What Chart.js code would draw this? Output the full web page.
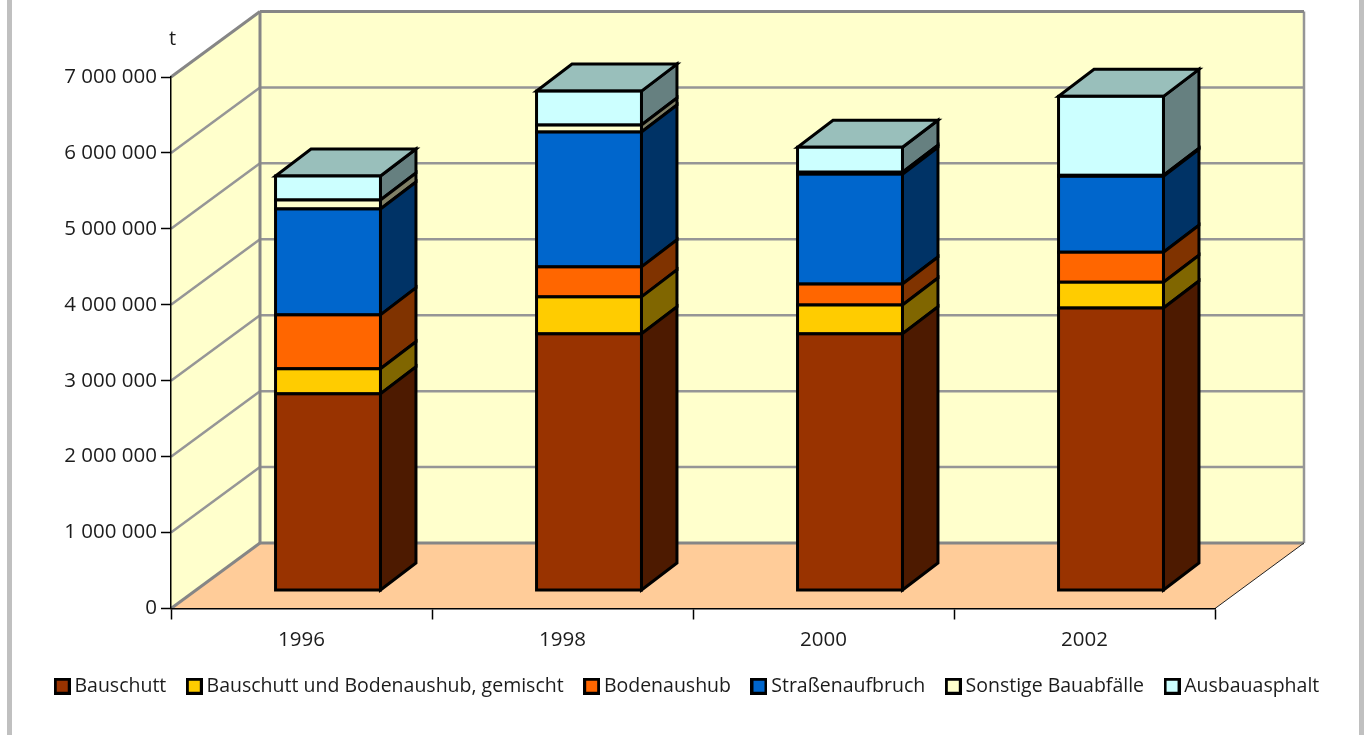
<!DOCTYPE html>
<html lang="de">
<head>
<meta charset="utf-8">
<title>Bauabfälle</title>
<style>
html,body{margin:0;padding:0;background:#fff;overflow:hidden}
#wrap{position:relative;width:1364px;height:735px}
canvas{position:absolute;left:0;top:0}
.rail{position:absolute;top:0;height:735px;background:#c0c0c0}
</style>
<script src="https://cdn.jsdelivr.net/npm/chart.js@4"></script>
</head>
<body>
<div id="wrap">
<div class="rail" style="left:7px;width:5px"></div>
<div class="rail" style="left:1359px;width:5px"></div>
<canvas id="c" width="1364" height="735"></canvas>
</div>
<script>
const years = ['1996','1998','2000','2002'];
const bauschutt = [2590000,3380000,3380000,3720000];
const gemischt  = [330000,487000,380000,340000];
const bodenaushub = [710000,395000,276000,395000];
const strassenaufbruch = [1395000,1776000,1447000,1000000];
const sonstige = [118000,92000,26000,13000];
const ausbauasphalt = [316000,447000,329000,1040000];
const seriesNames = ['Bauschutt','Bauschutt und Bodenaushub, gemischt','Bodenaushub','Straßenaufbruch','Sonstige Bauabfälle','Ausbauasphalt'];
const seriesValues = [bauschutt,gemischt,bodenaushub,strassenaufbruch,sonstige,ausbauasphalt];
const frontColors = ['#993300','#FFCC00','#FF6600','#0066CC','#FFFFCC','#CCFFFF'];
const sideColors  = ['#4D1A00','#806600','#803300','#003366','#808066','#668080'];
const topColor = '#99BFBB';
const FONT = '"Open Sans"';
const TEXT = '#1c1c1c';
const WALL_DX = 89, WALL_DY = -65.5;
const BAR_TX = 26.5, BAR_TY = -18;
const BAR_DX = 35.5, BAR_DY = -27;

function swatch(color){
  const c = document.createElement('canvas'); c.width = 17; c.height = 17;
  const g = c.getContext('2d');
  g.fillStyle = '#000'; g.fillRect(0,0,17,17);
  g.fillStyle = color; g.fillRect(3,3,11,11);
  return c;
}
const swatches = frontColors.map(swatch);

function poly(ctx, pts){
  ctx.beginPath();
  pts.forEach((p,i)=> i ? ctx.lineTo(p[0],p[1]) : ctx.moveTo(p[0],p[1]));
  ctx.closePath();
}
function seg(ctx,x1,y1,x2,y2,color,w){
  ctx.strokeStyle = color; ctx.lineWidth = w;
  ctx.beginPath(); ctx.moveTo(x1,y1); ctx.lineTo(x2,y2); ctx.stroke();
}

const box3d = {
  id:'box3d',
  beforeDraw(chart){
    const {ctx, chartArea:a, scales:{y}} = chart;
    const dx = WALL_DX, dy = WALL_DY;
    ctx.save();
    ctx.fillStyle = '#FFFFCC';
    poly(ctx,[[a.left,a.top],[a.left+dx,a.top+dy],[a.left+dx,a.bottom+dy],[a.left,a.bottom]]); ctx.fill();
    ctx.fillRect(a.left+dx,a.top+dy,a.right-a.left,a.bottom-a.top);
    ctx.fillStyle = '#FFCC99';
    poly(ctx,[[a.left,a.bottom],[a.left+dx,a.bottom+dy],[a.right+dx,a.bottom+dy],[a.right,a.bottom]]); ctx.fill();
    y.ticks.forEach(t=>{
      const py = y.getPixelForValue(t.value);
      if (t.value===0 || t.value===y.max) return;
      seg(ctx,a.left,py,a.left+dx,py+dy,'#969696',2.5);
      seg(ctx,a.left+dx,py+dy,a.right+dx,py+dy,'#969696',2.5);
    });
    seg(ctx,a.right+dx,a.top+dy,a.right+dx,a.bottom+dy,'#969696',2.5);
    seg(ctx,a.left,a.top,a.left+dx,a.top+dy,'#868686',3);
    seg(ctx,a.left+dx,a.top+dy,a.right+dx,a.top+dy,'#868686',3);
    seg(ctx,a.left,a.bottom,a.left+dx,a.bottom+dy,'#868686',3);
    seg(ctx,a.left+dx,a.bottom+dy,a.right+dx,a.bottom+dy,'#868686',3);
    seg(ctx,a.left+dx,a.top+dy,a.left+dx,a.bottom+dy,'#868686',3);
    seg(ctx,a.right,a.bottom,a.right+dx,a.bottom+dy,'#222',1);
    ctx.restore();
  },
  beforeDatasetDraw(chart,args){
    const {ctx} = chart;
    const i = args.index, meta = args.meta;
    ctx.save();
    ctx.translate(BAR_TX,BAR_TY);
    ctx.lineJoin = 'miter'; ctx.lineWidth = 3; ctx.strokeStyle = '#000';
    meta.data.forEach(el=>{
      const p = el.getProps(['x','y','base','width'],true);
      const R = p.x+p.width/2, L = p.x-p.width/2;
      ctx.fillStyle = sideColors[i];
      poly(ctx,[[R,p.base],[R+BAR_DX,p.base+BAR_DY],[R+BAR_DX,p.y+BAR_DY],[R,p.y]]);
      ctx.fill(); ctx.stroke();
      if (i===seriesValues.length-1){
        ctx.fillStyle = topColor;
        poly(ctx,[[L,p.y],[R,p.y],[R+BAR_DX,p.y+BAR_DY],[L+BAR_DX,p.y+BAR_DY]]);
        ctx.fill(); ctx.stroke();
      }
    });
  },
  afterDatasetDraw(chart,args){
    const {ctx} = chart;
    ctx.lineWidth = 3; ctx.strokeStyle = '#000';
    args.meta.data.forEach(el=>{
      const p = el.getProps(['x','y','base','width'],true);
      ctx.strokeRect(p.x-p.width/2,p.y,p.width,p.base-p.y);
    });
    ctx.restore();
  },
  afterDraw(chart){
    const {ctx} = chart;
    ctx.save();
    ctx.fillStyle = TEXT; ctx.font = '20px '+FONT;
    ctx.textAlign = 'left'; ctx.textBaseline = 'alphabetic';
    ctx.fillText('t',169,45);
    ctx.restore();
  }
};

new Chart(document.getElementById('c'),{
  type:'bar',
  data:{
    labels:years,
    datasets:seriesNames.map((n,i)=>({
      label:n,
      data:seriesValues[i],
      backgroundColor:frontColors[i],
      borderWidth:0,
      inflateAmount:0,
      clip:false,
      barPercentage:0.402,
      categoryPercentage:1
    }))
  },
  plugins:[box3d],
  options:{
    responsive:false,
    animation:false,
    events:[],
    layout:{padding:{left:15,right:0,top:77,bottom:29}},
    plugins:{
      tooltip:{enabled:false},
      title:{display:false},
      legend:{
        position:'bottom',
        labels:{
          usePointStyle:true,
          boxWidth:5,
          boxHeight:14,
          padding:25.5,
          color:TEXT,
          font:{family:FONT,size:19.5},
          generateLabels(chart){
            const base = Chart.defaults.plugins.legend.labels.generateLabels(chart);
            base.forEach((l,i)=>{ l.pointStyle = swatches[i]; });
            return base;
          }
        }
      }
    },
    scales:{
      x:{
        stacked:true,
        afterFit(s){ s.height = 42.5; },
        grid:{drawOnChartArea:false,tickLength:11,tickColor:c=>c.index===years.length?'#868686':'#000',tickWidth:1.5},
        border:{color:'#000',width:1.5},
        ticks:{color:TEXT,font:{family:FONT,size:20.5},padding:8,maxRotation:0}
      },
      y:{
        stacked:true,
        min:0,max:7000000,
        afterFit(s){ s.width = 156; },
        grid:{drawOnChartArea:false,tickLength:10,tickColor:'#000',tickWidth:1.5},
        border:{color:'#000',width:1.5},
        ticks:{
          stepSize:1000000,
          color:TEXT,
          font:{family:FONT,size:20.5},
          padding:4,
          callback:v=>String(v).replace(/\B(?=(\d{3})+$)/g,' ')
        }
      },
      spacer:{
        position:'right',
        display:true,
        afterFit(s){ s.width = 149; },
        grid:{display:false},
        border:{display:false},
        ticks:{display:false}
      }
    }
  }
});
</script>
</body>
</html>
